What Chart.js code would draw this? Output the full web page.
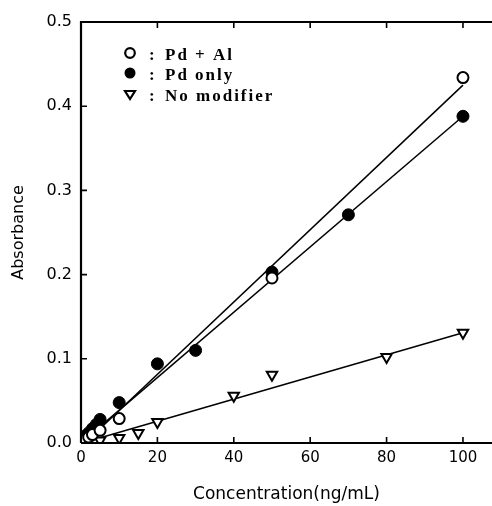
<!DOCTYPE html>
<html>
<head>
<meta charset="utf-8">
<script src="https://cdn.jsdelivr.net/npm/chart.js@4/dist/chart.umd.min.js"></script>
<style>
  html, body { margin: 0; padding: 0; background: #fff; }
  #wrap { width: 492px; height: 506px; }
</style>
</head>
<body>
<div id="wrap"><canvas id="grafico"></canvas></div>
<script>
// Datos
const concPdAl = [1, 2, 3, 5, 10, 50, 100];
const absPdAl = [0.004, 0.007, 0.010, 0.015, 0.029, 0.196, 0.434];

const concPd = [1, 2, 3, 4, 5, 10, 20, 30, 50, 70, 100];
const absPd = [0.008, 0.012, 0.017, 0.022, 0.028, 0.048, 0.094, 0.110, 0.203, 0.271, 0.388];

const concNone = [1, 2, 5, 10, 15, 20, 40, 50, 80, 100];
const absNone = [0.001, 0.002, 0.003, 0.006, 0.012, 0.025, 0.056, 0.081, 0.102, 0.131];

// Rectas de calibrado (extremos)
const fitX = [1, 100];
const fitPdAl = [0.000, 0.425];
const fitPd = [0.004, 0.388];
const fitNone = [0.001, 0.131];

const xTicks = [0, 20, 40, 60, 80, 100];
const yTicks = [0.0, 0.1, 0.2, 0.3, 0.4, 0.5];

const legendLabels = ['Pd + Al', 'Pd only', 'No modifier'];

const toPoints = (xs, ys) => xs.map((x, i) => ({ x: x, y: ys[i] }));

// Marco y marcas hacia dentro
const framePlugin = {
  id: 'frame',
  afterDatasetsDraw(chart) {
    const ctx = chart.ctx;
    const a = chart.chartArea;
    const sx = chart.scales.x, sy = chart.scales.y;
    ctx.save();
    ctx.strokeStyle = '#000';
    ctx.lineWidth = 2.2;
    ctx.beginPath();
    ctx.moveTo(a.left, a.bottom);
    ctx.lineTo(a.left, a.top);
    ctx.lineTo(a.right, a.top);
    ctx.moveTo(a.left, a.bottom);
    ctx.lineTo(a.right, a.bottom);
    ctx.stroke();
    ctx.lineWidth = 1.6;
    ctx.beginPath();
    xTicks.slice(1).forEach(v => {
      const px = sx.getPixelForValue(v);
      ctx.moveTo(px, a.bottom);
      ctx.lineTo(px, a.bottom - 6);
      ctx.moveTo(px, a.top);
      ctx.lineTo(px, a.top + 6);
    });
    yTicks.slice(1).forEach(v => {
      const py = sy.getPixelForValue(v);
      ctx.moveTo(a.left, py);
      ctx.lineTo(a.left + 6, py);
    });
    ctx.stroke();
    ctx.restore();
  }
};

// Leyenda dentro del gráfico
const legendPlugin = {
  id: 'leyenda',
  afterDraw(chart) {
    const ctx = chart.ctx;
    const ys = [53, 73, 95];
    const base = [60, 80, 101];
    ctx.save();
    ctx.fillStyle = '#000';
    ctx.strokeStyle = '#000';
    ctx.lineWidth = 2.2;
    // símbolos
    ctx.beginPath();
    ctx.arc(130, ys[0], 4.8, 0, Math.PI * 2);
    ctx.stroke();
    ctx.beginPath();
    ctx.arc(130, ys[1], 5.5, 0, Math.PI * 2);
    ctx.fill();
    ctx.beginPath();
    ctx.moveTo(125, ys[2] - 4);
    ctx.lineTo(135, ys[2] - 4);
    ctx.lineTo(130, ys[2] + 4);
    ctx.closePath();
    ctx.stroke();
    // textos
    ctx.font = 'bold 17px "Liberation Serif"';
    ctx.textBaseline = 'alphabetic';
    if ('letterSpacing' in ctx) ctx.letterSpacing = '2px';
    legendLabels.forEach((t, i) => {
      ctx.fillText(':', 149, base[i]);
      ctx.fillText(t, 165, base[i]);
    });
    ctx.restore();
  }
};

const ctx = document.getElementById('grafico').getContext('2d');
new Chart(ctx, {
  type: 'scatter',
  data: {
    datasets: [
      {
        label: 'Pd + Al',
        data: toPoints(concPdAl, absPdAl),
        pointStyle: 'circle',
        pointRadius: 5.5,
        borderColor: '#000',
        backgroundColor: '#fff',
        borderWidth: 2
      },
      {
        label: 'Pd only',
        data: toPoints(concPd, absPd),
        pointStyle: 'circle',
        pointRadius: 6,
        borderColor: '#000',
        backgroundColor: '#000',
        borderWidth: 1
      },
      {
        label: 'No modifier',
        data: toPoints(concNone, absNone),
        pointStyle: 'triangle',
        rotation: 180,
        pointRadius: 6,
        borderColor: '#000',
        backgroundColor: '#fff',
        borderWidth: 2
      },
      {
        data: toPoints(fitX, fitPdAl),
        showLine: true, pointRadius: 0, borderColor: '#000', borderWidth: 1.5
      },
      {
        data: toPoints(fitX, fitPd),
        showLine: true, pointRadius: 0, borderColor: '#000', borderWidth: 1.5
      },
      {
        data: toPoints(fitX, fitNone),
        showLine: true, pointRadius: 0, borderColor: '#000', borderWidth: 1.5
      }
    ]
  },
  options: {
    responsive: true,
    maintainAspectRatio: false,
    animation: false,
    layout: { autoPadding: false, padding: { top: 22, right: 0, left: 0, bottom: 0 } },
    plugins: {
      legend: { display: false },
      tooltip: { enabled: false }
    },
    scales: {
      x: {
        type: 'linear',
        min: 0,
        max: 107.6,
        afterBuildTicks: s => { s.ticks = xTicks.map(v => ({ value: v })); },
        afterFit: s => { s.height = 63; s.paddingRight = 0; s.paddingLeft = 0; },
        grid: { display: false, drawTicks: false },
        border: { display: false },
        ticks: {
          color: '#000',
          padding: 6,
          font: { family: '"DejaVu Sans"', size: 15 }
        },
        title: {
          display: true,
          text: 'Concentration(ng/mL)',
          color: '#000',
          padding: { top: 0, bottom: 1 },
          font: { family: '"DejaVu Sans"', size: 17 }
        }
      },
      y: {
        type: 'linear',
        min: 0,
        max: 0.5,
        afterBuildTicks: s => { s.ticks = yTicks.map(v => ({ value: v })); },
        afterFit: s => { s.width = 81; s.paddingTop = 0; s.paddingBottom = 0; },
        grid: { display: false, drawTicks: false },
        border: { display: false },
        ticks: {
          color: '#000',
          padding: 9,
          font: { family: '"DejaVu Sans"', size: 16 },
          callback: v => v.toFixed(1)
        },
        title: {
          display: true,
          text: 'Absorbance',
          color: '#000',
          padding: { top: 9, bottom: 4 },
          font: { family: '"DejaVu Sans"', size: 16 }
        }
      }
    }
  },
  plugins: [framePlugin, legendPlugin]
});
</script>
</body>
</html>
